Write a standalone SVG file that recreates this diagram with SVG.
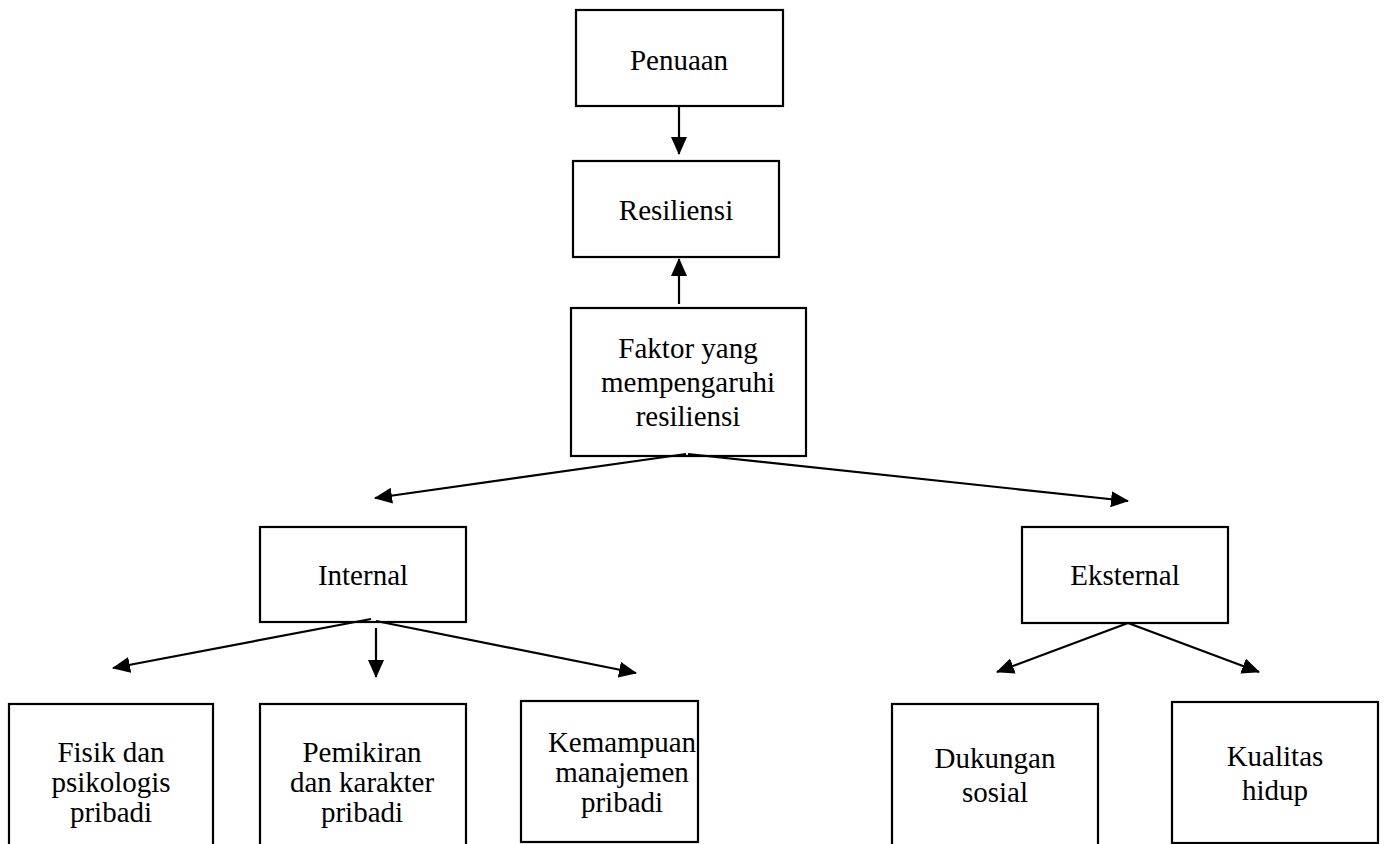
<svg xmlns="http://www.w3.org/2000/svg" width="1384" height="844" viewBox="0 0 1384 844">
<style>
.box{fill:#fff;stroke:#000;stroke-width:2.2}
.lbl{font-family:"Liberation Serif","Times New Roman",serif;font-size:29px;fill:#000;text-anchor:middle}
.con{stroke:#000;stroke-width:2.2;fill:none;marker-end:url(#ah)}
</style>
<defs>
<marker id="ah" markerUnits="userSpaceOnUse" markerWidth="20" markerHeight="18" refX="17" refY="8" orient="auto">
<path d="M0,0 L18,8 L0,16 Z" fill="#000"/>
</marker>
</defs>
<rect width="1384" height="844" fill="#fff"/>
<g id="n-penuaan"><rect class="box" x="576" y="10" width="207" height="96"/><text class="lbl" x="679" y="70">Penuaan</text></g>
<g id="n-resiliensi"><rect class="box" x="573" y="161" width="206" height="96"/><text class="lbl" x="676" y="220">Resiliensi</text></g>
<g id="n-faktor"><rect class="box" x="571" y="308" width="235" height="148"/><text class="lbl" x="688" y="358">Faktor yang</text><text class="lbl" x="688" y="392">mempengaruhi</text><text class="lbl" x="688" y="426">resiliensi</text></g>
<g id="n-internal"><rect class="box" x="260" y="527" width="206" height="95"/><text class="lbl" x="363" y="585">Internal</text></g>
<g id="n-eksternal"><rect class="box" x="1022" y="527" width="206" height="96"/><text class="lbl" x="1125" y="585">Eksternal</text></g>
<g id="n-fisik"><rect class="box" x="9" y="704" width="204" height="160"/><text class="lbl" x="111" y="762">Fisik dan</text><text class="lbl" x="111" y="792">psikologis</text><text class="lbl" x="111" y="822">pribadi</text></g>
<g id="n-pemikiran"><rect class="box" x="260" y="704" width="206" height="160"/><text class="lbl" x="362" y="762">Pemikiran</text><text class="lbl" x="362" y="792">dan karakter</text><text class="lbl" x="362" y="822">pribadi</text></g>
<g id="n-kemampuan"><rect class="box" x="521" y="701" width="177" height="141"/><text class="lbl" x="622" y="752">Kemampuan</text><text class="lbl" x="622" y="782">manajemen</text><text class="lbl" x="622" y="812">pribadi</text></g>
<g id="n-dukungan"><rect class="box" x="892" y="704" width="206" height="160"/><text class="lbl" x="995" y="768">Dukungan</text><text class="lbl" x="995" y="802">sosial</text></g>
<g id="n-kualitas"><rect class="box" x="1172" y="702" width="206" height="141"/><text class="lbl" x="1275" y="766">Kualitas</text><text class="lbl" x="1275" y="800">hidup</text></g>
<g id="connectors">
<line class="con" x1="679" y1="106" x2="679" y2="154"/>
<line class="con" x1="679" y1="304" x2="679" y2="259"/>
<line class="con" x1="686" y1="454" x2="375" y2="498"/>
<line class="con" x1="688" y1="454" x2="1128" y2="501"/>
<line class="con" x1="371" y1="619" x2="113" y2="668"/>
<line class="con" x1="376" y1="628" x2="376" y2="677"/>
<line class="con" x1="376" y1="621" x2="636" y2="673"/>
<line class="con" x1="1128" y1="623" x2="997" y2="672"/>
<line class="con" x1="1128" y1="623" x2="1259" y2="672"/>
</g>
</svg>
